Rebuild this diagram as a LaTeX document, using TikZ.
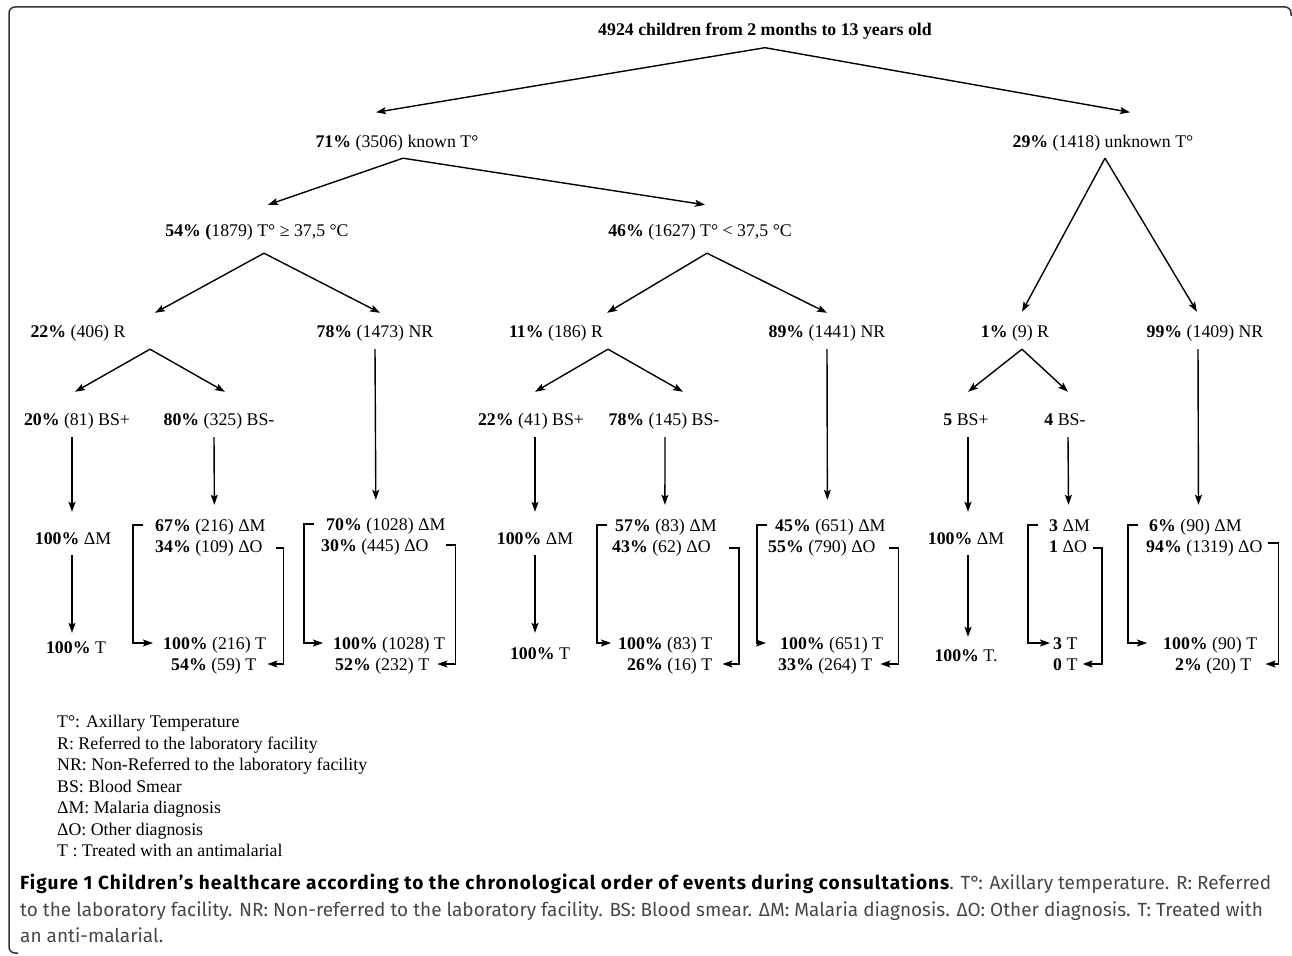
\documentclass[tikz,border=0pt]{standalone}
\usepackage{fontspec}
\setmainfont{Liberation Serif}
\newfontfamily\capfont{Fira Sans}
\usetikzlibrary{positioning,arrows.meta}

\tikzset{
  kn/.style={inner sep=0pt,text height=14.5pt,text depth=2.5pt,font=\fontsize{17.8}{21.5}\selectfont},
  kw/.style={kn,anchor=west},
  pf/.style={-{Stealth[length=10pt,width=7pt,inset=2pt]},line width=1.4pt}
}

\begin{document}
\begin{tikzpicture}[x=1pt,y=-1pt]
\useasboundingbox (0,0) rectangle (1292,955);

% rahmen
\draw[line width=1.5pt,black!80,rounded corners=6pt] (1291,16) -- (1291,7) -- (9,7) -- (9,953) -- (18,953);

% kopf
\node[kn,font=\bfseries\fontsize{17.8}{21.5}\selectfont](tit) at (765,30){4924 children from 2 months to 13 years old};

% erste ebene
\node[kn](n71) at (397,141){\textbf{71\%} (3506) known T°};
\node[kn](n29) at (1103,141){\textbf{29\%} (1418) unknown T°};

% temperatur
\node[kn](n54) at (257,230){\textbf{54\% (}1879) T° ≥ 37,5 °C};
\node[kn](n46) at (700,230){\textbf{46\%} (1627) T° < 37,5 °C};

% R / NR
\node[kn](n22) at (78,331){\textbf{22\%} (406) R};
\node[kn](n78) at (375,331){\textbf{78\%} (1473) NR};
\node[kn](n11) at (556,331){\textbf{11\%} (186) R};
\node[kn](n89) at (827,331){\textbf{89\%} (1441) NR};
\node[kn](n1) at (1015,331){\textbf{1\%} (9) R};
\node[kn](n99) at (1205,331){\textbf{99\%} (1409) NR};

% blutausstrich
\node[kn](bp20) at (77,419){\textbf{20\%} (81) BS+};
\node[kn](bm80) at (219,419){\textbf{80\%} (325) BS-};
\node[kn](bp22) at (531,419){\textbf{22\%} (41) BS+};
\node[kn](bm78) at (664,419){\textbf{78\%} (145) BS-};
\node[kn](bp5) at (966,419){\textbf{5} BS+};
\node[kn](bm4) at (1065,419){\textbf{4} BS-};

% diagnose malaria + behandlung
\node[kn](dm1) at (73,538){\textbf{100\%} ΔM};
\node[kn](dm2) at (535,538){\textbf{100\%} ΔM};
\node[kn](dm3) at (966,538){\textbf{100\%} ΔM};
\node[kn](tt1) at (76,647){\textbf{100\%} T};
\node[kn](tt2) at (540,653){\textbf{100\%} T};
\node[kn](tt3) at (966,655){\textbf{100\%} T.};

% kaesten
\node[kw](a1) at (155,525){\textbf{67\%} (216) ΔM};
\node[kw](a2) at (155,546){\textbf{34\%} (109) ΔO};
\node[kw](a3) at (163,643){\textbf{100\%} (216) T};
\node[kw](a4) at (171,664){\textbf{54\%} (59) T};

\node[kw](b1) at (326,524){\textbf{70\%} (1028) ΔM};
\node[kw](b2) at (321,545){\textbf{30\%} (445) ΔO};
\node[kw](b3) at (333,643){\textbf{100\%} (1028) T};
\node[kw](b4) at (335,664){\textbf{52\%} (232) T};

\node[kw](c1) at (615,525){\textbf{57\%} (83) ΔM};
\node[kw](c2) at (612,546){\textbf{43\%} (62) ΔO};
\node[kw](c3) at (618,643){\textbf{100\%} (83) T};
\node[kw](c4) at (627,664){\textbf{26\%} (16) T};

\node[kw](e1) at (775,525){\textbf{45\%} (651) ΔM};
\node[kw](e2) at (768,546){\textbf{55\%} (790) ΔO};
\node[kw](e3) at (780,643){\textbf{100\%} (651) T};
\node[kw](e4) at (778,664){\textbf{33\%} (264) T};

\node[kw](f1) at (1049,525){\textbf{3} ΔM};
\node[kw](f2) at (1049,546){\textbf{1} ΔO};
\node[kw](f3) at (1053,643){\textbf{3} T};
\node[kw](f4) at (1053,664){\textbf{0} T};

\node[kw](g1) at (1149,525){\textbf{6\%} (90) ΔM};
\node[kw](g2) at (1146,546){\textbf{94\%} (1319) ΔO};
\node[kw](g3) at (1163,643){\textbf{100\%} (90) T};
\node[kw](g4) at (1175,664){\textbf{2\%} (20) T};

% pfeile baum
\draw[pf] ([yshift=-9pt]tit.south) -- ([xshift=-21pt,yshift=20pt]n71.north);
\draw[pf] ([yshift=-9pt]tit.south) -- ([xshift=27pt,yshift=20pt]n29.north);

\draw[pf] ([xshift=6pt,yshift=-8.5pt]n71.south) -- ([xshift=11pt,yshift=16.5pt]n54.north);
\draw[pf] ([xshift=6pt,yshift=-8.5pt]n71.south) -- ([xshift=5pt,yshift=16.5pt]n46.north);
\draw[pf] ([xshift=2pt,yshift=-8.5pt]n29.south) -- ([xshift=7pt,yshift=10.5pt]n1.north);
\draw[pf] ([xshift=2pt,yshift=-8.5pt]n29.south) -- ([xshift=-8pt,yshift=10.5pt]n99.north);

\draw[pf] ([xshift=7pt,yshift=-14.5pt]n54.south) -- ([xshift=77pt,yshift=9.5pt]n22.north);
\draw[pf] ([xshift=7pt,yshift=-14.5pt]n54.south) -- ([xshift=5pt,yshift=9.5pt]n78.north);
\draw[pf] ([xshift=7pt,yshift=-14.5pt]n46.south) -- ([xshift=51pt,yshift=9.5pt]n11.north);
\draw[pf] ([xshift=7pt,yshift=-14.5pt]n46.south) -- ([yshift=9.5pt]n89.north);

\draw[pf] ([xshift=72pt,yshift=-9.5pt]n22.south) -- ([xshift=-2pt,yshift=18.5pt]bp20.north);
\draw[pf] ([xshift=72pt,yshift=-9.5pt]n22.south) -- ([xshift=6pt,yshift=18.5pt]bm80.north);
\draw[pf] ([xshift=52pt,yshift=-9.5pt]n11.south) -- ([xshift=4pt,yshift=18.5pt]bp22.north);
\draw[pf] ([xshift=52pt,yshift=-9.5pt]n11.south) -- ([xshift=19pt,yshift=18.5pt]bm78.north);
\draw[pf] ([xshift=7pt,yshift=-9.5pt]n1.south) -- ([xshift=2pt,yshift=18.5pt]bp5.north);
\draw[pf] ([xshift=7pt,yshift=-9.5pt]n1.south) -- ([xshift=3pt,yshift=18.5pt]bm4.north);

% senkrechte pfeile
\draw[pf] ([xshift=-5pt,yshift=-9.5pt]bp20.south) -- ([xshift=-1pt,yshift=17.5pt]dm1.north);
\draw[pf] ([xshift=-1pt,yshift=-8.5pt]dm1.south) -- ([xshift=-4pt,yshift=5.5pt]tt1.north);
\draw[pf] ([xshift=-5pt,yshift=-9.5pt]bm80.south) -- ([xshift=4pt,yshift=11.5pt]a1.north);
\draw[pf] ([yshift=-9.5pt]n78.south) -- ([xshift=-10pt,yshift=15.5pt]b1.north);
\draw[pf] ([xshift=4pt,yshift=-9.5pt]bp22.south) -- ([yshift=17.5pt]dm2.north);
\draw[pf] ([yshift=-8.5pt]dm2.south) -- ([xshift=-5pt,yshift=11.5pt]tt2.north);
\draw[pf] ([xshift=1pt,yshift=-9.5pt]bm78.south) -- ([xshift=-1pt,yshift=11.5pt]c1.north);
\draw[pf] ([yshift=-9.5pt]n89.south) -- ([xshift=-3pt,yshift=16.5pt]e1.north);
\draw[pf] ([xshift=2pt,yshift=-9.5pt]bp5.south) -- ([xshift=2pt,yshift=17.5pt]dm3.north);
\draw[pf] ([xshift=2pt,yshift=-8.5pt]dm3.south) -- ([xshift=2pt,yshift=9.5pt]tt3.north);
\draw[pf] ([xshift=3pt,yshift=-9.5pt]bm4.south) -- ([xshift=-1pt,yshift=11.5pt]f1.north);
\draw[pf] ([xshift=-7pt,yshift=-9.5pt]n99.south) -- ([xshift=3pt,yshift=11.5pt]g1.north);

% klammern
\draw[pf] ([xshift=-12pt]a1.west) -- ++(-10,0) |- ([xshift=-10pt]a3.west);
\draw[pf] ([xshift=13pt,yshift=-2pt]a2.east) -- ++(8,0) |- ([xshift=11pt]a4.east);
\draw[pf] ([xshift=-12pt]b1.west) -- ++(-10,0) |- ([xshift=-10pt]b3.west);
\draw[pf] ([xshift=17pt]b2.east) -- ++(10,0) |- ([xshift=8pt]b4.east);
\draw[pf] ([xshift=-8pt]c1.west) -- ++(-10,0) |- ([xshift=-7pt]c3.west);
\draw[pf] ([xshift=18pt,yshift=-2pt]c2.east) -- ++(10,0) |- ([xshift=10pt]c4.east);
\draw[pf] ([xshift=-8pt]e1.west) -- ++(-10,0) |- ([xshift=-14pt]e3.west);
\draw[pf] ([xshift=13pt,yshift=-2pt]e2.east) -- ++(10,0) |- ([xshift=8pt]e4.east);
\draw[pf] ([xshift=-11pt]f1.west) -- ++(-10,0) |- ([xshift=-3pt]f3.west);
\draw[pf] ([xshift=6pt,yshift=-2pt]f2.east) -- ++(9,0) |- ([xshift=5pt]f4.east);
\draw[pf] ([xshift=-11pt]g1.west) -- ++(-10,0) |- ([xshift=-16pt]g3.west);
\draw[pf] ([xshift=5pt,yshift=3pt]g2.east) -- ++(11,0) |- ([xshift=14pt]g4.east);

% legende
\node[anchor=north west,inner sep=0pt,align=left,font=\fontsize{17.8}{21.5}\selectfont](leg) at (57,715){T°: Axillary Temperature\\
R: Referred to the laboratory facility\\
NR: Non-Referred to the laboratory facility\\
BS: Blood Smear\\
ΔM: Malaria diagnosis\\
ΔO: Other diagnosis\\
T : Treated with an antimalarial};

% bildunterschrift
\node[anchor=north west,inner sep=0pt,align=left,text=black!72,font=\capfont\fontsize{19}{26.5}\selectfont](cap) at (20,874){{\bfseries\addfontfeatures{LetterSpace=5.5}\color{black}Figure 1 Children’s healthcare according to the chronological order of events during consultations}. T°: Axillary temperature. R: Referred\\
to the laboratory facility. NR: Non-referred to the laboratory facility. BS: Blood smear. ΔM: Malaria diagnosis. ΔO: Other diagnosis. T: Treated with\\
an anti-malarial.};

\end{tikzpicture}
\end{document}
